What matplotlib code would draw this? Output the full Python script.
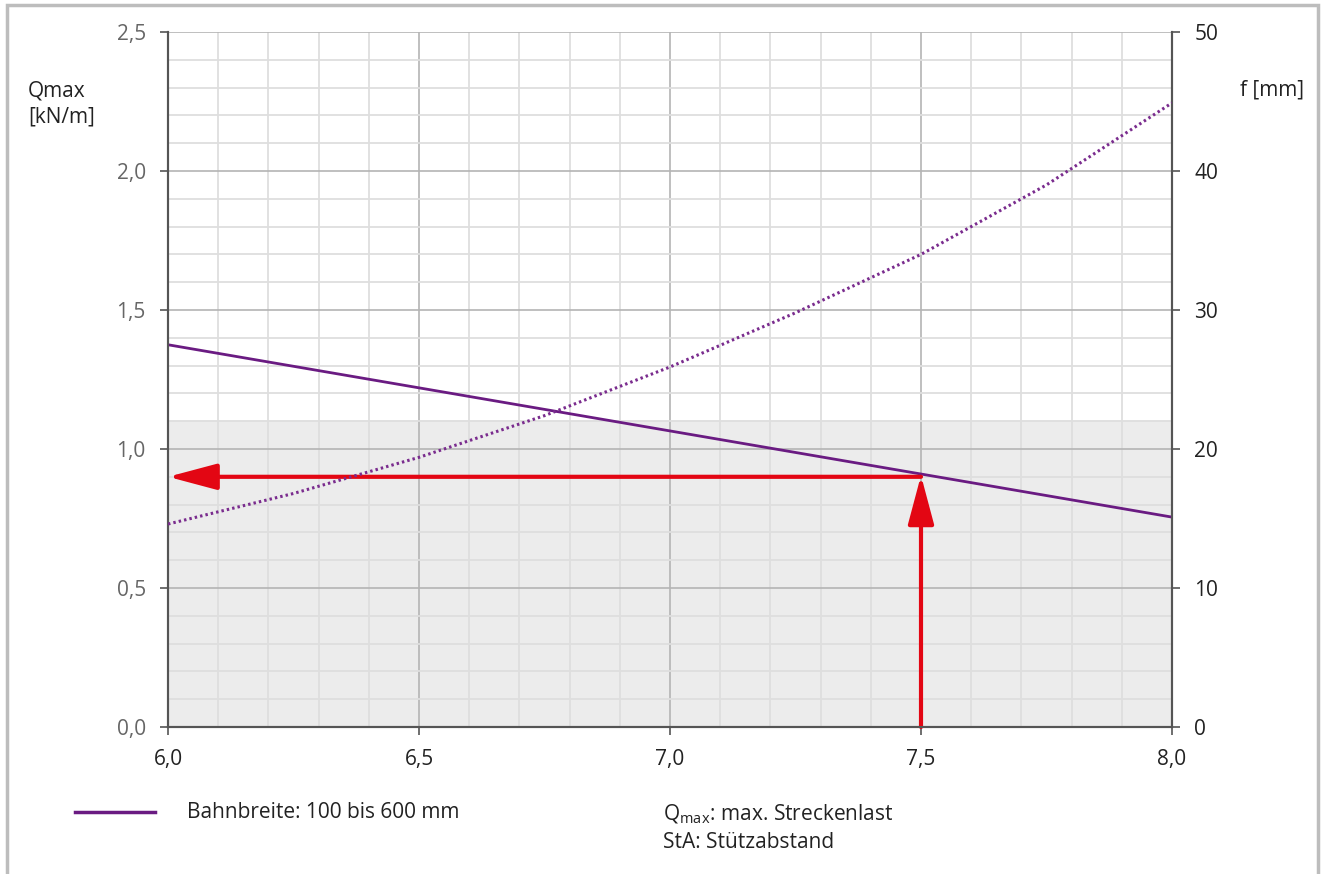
import matplotlib
matplotlib.use('Agg')
import matplotlib.pyplot as plt
import matplotlib.patches as patches
from matplotlib.ticker import MultipleLocator, FuncFormatter

plt.rcParams['font.family'] = ['Open Sans', 'DejaVu Sans']
plt.rcParams['mathtext.default'] = 'regular'

# span [m] vs. max line load Qmax [kN/m]
span = [6.0, 6.5, 7.0, 7.5, 8.0]
qmax = [1.375, 1.22, 1.065, 0.91, 0.755]

# span [m] vs. deflection f [mm]
span_f = [6.0, 6.25, 6.5, 6.75, 7.0, 7.25, 7.5, 7.75, 8.0]
defl = [14.6, 16.8, 19.4, 22.4, 25.9, 29.8, 34.0, 39.0, 44.9]

# reading example
read_span = 7.5
read_q = 0.90
read_tip = 0.905
shade_top = 1.1

purple = '#6a1b82'
red = '#e30613'
W, H = 1325, 874
fs = 15

fig = plt.figure(figsize=(W / 100, H / 100), dpi=100)
ax = fig.add_axes([168 / W, 1 - 727 / H, (1172 - 168) / W, (727 - 32) / H])
ax2 = ax.twinx()

# gray outer frame
fig.patches.append(patches.Rectangle((7 / W, -0.01), (1318 - 7) / W, 1.01 - 5 / H,
                                     transform=fig.transFigure, fill=False,
                                     edgecolor='#bdbdbd', lw=2.5))

ax.set_xlim(6.0, 8.0)
ax.set_ylim(0, 2.5)
ax2.set_ylim(0, 50)

ax.axhspan(0, shade_top, color='#ececec', zorder=0)
ax.set_axisbelow(True)
ax.xaxis.set_major_locator(MultipleLocator(0.5))
ax.xaxis.set_minor_locator(MultipleLocator(0.1))
ax.yaxis.set_major_locator(MultipleLocator(0.5))
ax.yaxis.set_minor_locator(MultipleLocator(0.1))
ax.grid(which='major', color='#b4b4b4', lw=1.2)
ax.grid(which='minor', color='#dedede', lw=1.3)

comma = FuncFormatter(lambda v, p: f'{v:.1f}'.replace('.', ','))
ax.xaxis.set_major_formatter(comma)
ax.yaxis.set_major_formatter(comma)
ax2.yaxis.set_major_locator(MultipleLocator(10))

for a in (ax, ax2):
    a.spines['top'].set_visible(False)
    for s in ('left', 'right', 'bottom'):
        a.spines[s].set_color('#555555')
        a.spines[s].set_linewidth(1.5)
ax.tick_params(which='minor', length=0)
ax.tick_params(which='major', length=6, width=1.2, color='#555555', labelsize=fs, pad=8)
ax.tick_params(axis='y', labelcolor='#666666', pad=10)
ax.tick_params(axis='x', labelcolor='#222222', pad=10)
ax2.tick_params(length=6, width=1.2, color='#555555', labelsize=fs, labelcolor='#222222', pad=10)

ax.plot(span, qmax, color=purple, lw=2, zorder=4)
ax2.plot(span_f, defl, color='#7a2c8e', lw=2.2, ls=(0, (0.8, 1.0)), zorder=3)

arrow = dict(arrowstyle='-|>,head_length=30,head_width=8', mutation_scale=1,
             color=red, lw=3, shrinkA=0, shrinkB=0)
ax.annotate('', xy=(6.0, read_q), xytext=(read_span, read_q), arrowprops=arrow, zorder=5)
ax.annotate('', xy=(read_span, read_tip), xytext=(read_span, 0), arrowprops=arrow, zorder=5)

fig.text(28 / W, 1 - 104 / H, 'Qmax\n[kN/m]', fontsize=fs, color='#222222',
         va='center', ha='left', linespacing=1.35)
fig.text(1240 / W, 1 - 90 / H, 'f [mm]', fontsize=fs, color='#222222',
         va='center', ha='left')

# legend / notes
fig.add_artist(plt.Line2D([75 / W, 155 / W], [1 - 812 / H, 1 - 812 / H],
                          color=purple, lw=2.5))
fig.text(187 / W, 1 - 813 / H, 'Bahnbreite: 100 bis 600 mm', fontsize=fs,
         color='#222222', va='center')
fig.text(663 / W, 1 - 814 / H, 'Q$_{max}$: max. Streckenlast', fontsize=fs,
         color='#222222', va='center')
fig.text(663 / W, 1 - 843 / H, 'StA: Stützabstand', fontsize=fs,
         color='#222222', va='center')

fig.savefig('out.png', dpi=100)
